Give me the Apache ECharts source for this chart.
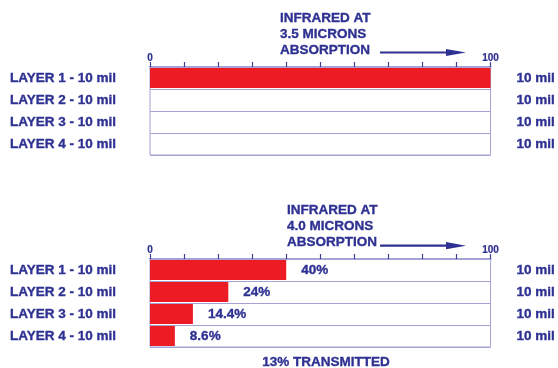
<!DOCTYPE html>
<html>
<head>
<meta charset="utf-8">
<script src="https://cdn.jsdelivr.net/npm/echarts@6/dist/echarts.min.js"></script>
<style>
html,body{margin:0;padding:0;background:#fff;}
#c{width:558px;height:368px;}
</style>
</head>
<body>
<div id="c"></div>
<script>
// ---- data ----
const layers = ['LAYER 1 - 10 mil', 'LAYER 2 - 10 mil', 'LAYER 3 - 10 mil', 'LAYER 4 - 10 mil'];
const thickness = ['10 mil', '10 mil', '10 mil', '10 mil'];
const absorb35 = [100, 0, 0, 0];
const absorb40 = [40, 23, 12.6, 7.3];
const labels40 = ['40%', '24%', '14.4%', '8.6%'];
const title35 = ['INFRARED AT', '3.5 MICRONS', 'ABSORPTION'];
const title40 = ['INFRARED AT', '4.0 MICRONS', 'ABSORPTION'];
const axisEnds = ['0', '100'];
const footer = '13% TRANSMITTED';

const NAVY = '#2e3192';
const RED = '#ed1c24';
const LINE = '#a3a3d6';
const FONT = 'Arial, "Liberation Sans", sans-serif';
const TXT = {color: NAVY, fontSize: 13.5, fontWeight: 'bold', fontFamily: FONT,
             textBorderColor: NAVY, textBorderWidth: 0.35};

const chart = echarts.init(document.getElementById('c'), null, {renderer: 'canvas'});

function xAx(gi) {
  return {
    gridIndex: gi, type: 'value', position: 'top', min: 0, max: 100, interval: 10,
    axisLine: {show: true, lineStyle: {color: LINE, width: 2}},
    axisTick: {show: true, length: 5, lineStyle: {color: '#3f3f9a', width: 1.2}},
    splitLine: {show: false},
    axisLabel: {
      margin: 4, color: NAVY, fontSize: 10, fontWeight: 'bold', fontFamily: FONT,
      textBorderColor: NAVY, textBorderWidth: 0.2,
      formatter: v => v === 0 ? axisEnds[0] : (v === 100 ? axisEnds[1] : '')
    }
  };
}
function yLeft(gi) {
  return {
    gridIndex: gi, type: 'category', data: layers, inverse: true,
    axisLine: {show: false}, axisTick: {show: false},
    splitLine: {show: true, interval: 0, lineStyle: {color: LINE, width: 1}},
    axisLabel: Object.assign({align: 'left', margin: 140}, TXT)
  };
}
function yRight(gi) {
  return {
    gridIndex: gi, type: 'category', data: thickness, inverse: true, position: 'right',
    axisLine: {show: false}, axisTick: {show: false}, splitLine: {show: false},
    axisLabel: Object.assign({align: 'left', margin: 26}, TXT)
  };
}
function arrow(y) {
  return [
    {type: 'line', shape: {x1: 380, y1: y, x2: 450, y2: y}, style: {stroke: NAVY, lineWidth: 2.2}},
    {type: 'polygon', shape: {points: [[446, y - 3.6], [466, y], [446, y + 3.6]]}, style: {fill: NAVY}}
  ];
}
const titleStyle = Object.assign({lineHeight: 16.3}, TXT);

const option = {
  animation: false,
  backgroundColor: '#fff',
  title: [
    {text: title35.join('\n'), left: 280, top: 10, padding: 0, textStyle: titleStyle},
    {text: title40.join('\n'), left: 287, top: 202, padding: 0, textStyle: titleStyle},
    {text: footer, left: 326, top: 355, padding: 0, textAlign: 'center', textStyle: Object.assign({lineHeight: 15}, TXT)}
  ],
  grid: [
    {left: 150, right: 66, top: 67, height: 88, show: true, borderColor: LINE, borderWidth: 1, backgroundColor: '#fff'},
    {left: 150, right: 66, top: 259, height: 88, show: true, borderColor: LINE, borderWidth: 1, backgroundColor: '#fff'}
  ],
  xAxis: [xAx(0), xAx(1)],
  yAxis: [yLeft(0), yRight(0), yLeft(1), yRight(1)],
  series: [
    {type: 'bar', xAxisIndex: 0, yAxisIndex: 0, data: absorb35, barWidth: 20,
     itemStyle: {color: RED}},
    {type: 'bar', xAxisIndex: 1, yAxisIndex: 2, data: absorb40, barWidth: 20,
     itemStyle: {color: RED},
     label: Object.assign({show: true, position: 'right', distance: 15,
             formatter: p => labels40[p.dataIndex]}, TXT)}
  ],
  graphic: [].concat(arrow(52.5), arrow(245.7))
};
chart.setOption(option);
</script>
</body>
</html>
